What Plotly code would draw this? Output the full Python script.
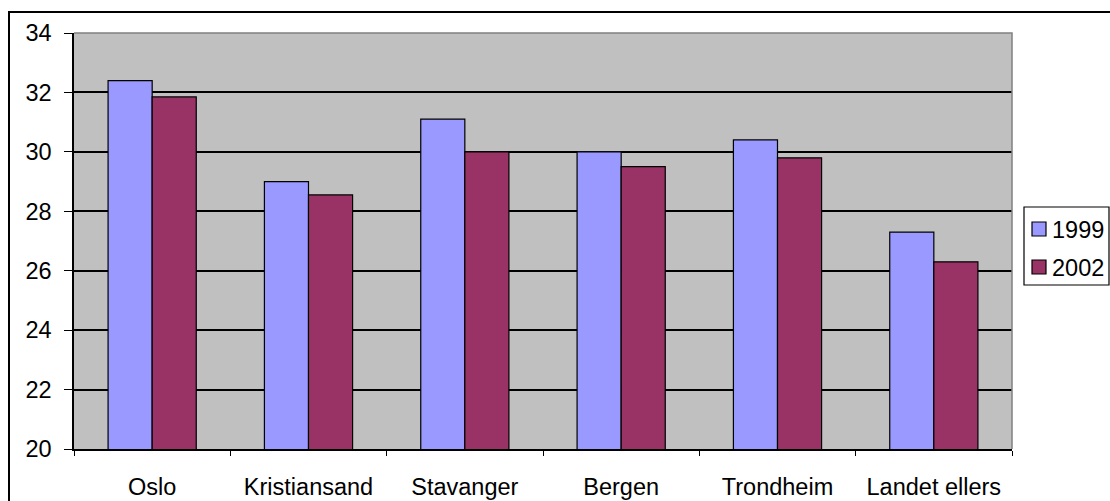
import plotly.graph_objects as go

categories = ["Oslo", "Kristiansand", "Stavanger", "Bergen", "Trondheim", "Landet ellers"]
values_1999 = [32.4, 29.0, 31.1, 30.0, 30.4, 27.3]
values_2002 = [31.85, 28.55, 30.0, 29.5, 29.8, 26.3]
y_ticks = [20, 22, 24, 26, 28, 30, 32, 34]
series_names = ["1999", "2002"]
series_colors = ["#9999FF", "#993366"]

W, H = 1110, 501
L, R, T, B = 74, 1012, 33, 449

FONT = "Liberation Sans, Arial, sans-serif"
FS = 23.5

fig = go.Figure()
for name, vals, col in zip(series_names, [values_1999, values_2002], series_colors):
    fig.add_trace(go.Bar(x=categories, y=vals, name=name,
                         marker=dict(color=col, line=dict(color="black", width=1.2))))

pw, ph = R - L, B - T


def px_x(x):  # screen x -> paper
    return (x - L) / pw


def px_y(y):  # screen y -> paper
    return 1 - (y - T) / ph


shapes = [
    dict(type="path", xref="paper", yref="paper", path="M0,1 L1,1 L1,0",
         line=dict(color="#808080", width=1.5), layer="above"),
    dict(type="rect", xref="paper", yref="paper",
         x0=px_x(9), x1=1.3, y0=-0.5, y1=px_y(12),
         line=dict(color="black", width=2), layer="below"),
    dict(type="rect", xref="paper", yref="paper",
         x0=px_x(1024), x1=px_x(1109), y0=px_y(285), y1=px_y(207),
         line=dict(color="black", width=1.2), fillcolor="white", layer="above"),
]
annotations = []
legend_y = [229, 267]
for name, col, yc in zip(series_names, series_colors, legend_y):
    shapes.append(dict(type="rect", xref="paper", yref="paper",
                       x0=px_x(1032), x1=px_x(1046), y0=px_y(yc + 7), y1=px_y(yc - 7),
                       line=dict(color="black", width=1.2), fillcolor=col, layer="above"))
    annotations.append(dict(xref="paper", yref="paper", x=px_x(1050), y=px_y(yc + 1),
                            text=name, showarrow=False, xanchor="left", yanchor="middle",
                            font=dict(family=FONT, size=FS, color="black")))

fig.update_layout(
    width=W, height=H,
    margin=dict(l=L, r=W - R, t=T, b=H - B, pad=0),
    paper_bgcolor="white", plot_bgcolor="#C0C0C0",
    barmode="group", bargap=0.436, bargroupgap=0,
    font=dict(family=FONT, size=FS, color="black"),
    showlegend=False,
    shapes=shapes,
    annotations=annotations,
)
fig.update_xaxes(showline=True, linecolor="black", linewidth=1.5, ticks="outside",
                 ticklen=5, tickcolor="black", tickson="boundaries", showgrid=False,
                 ticklabelstandoff=16, tickfont=dict(size=FS), automargin=False)
fig.update_yaxes(range=[20, 34], tickvals=y_ticks, showline=True, linecolor="black",
                 linewidth=1.5, ticks="outside", ticklen=8, tickcolor="black",
                 showgrid=True, gridcolor="black", gridwidth=1.5, zeroline=False,
                 ticklabelstandoff=8, tickfont=dict(size=FS), automargin=False)

fig.write_html("out.html",
               config={"displayModeBar": False},
               post_script="document.body.style.margin='0px';"
                           "document.body.style.overflow='hidden';")
